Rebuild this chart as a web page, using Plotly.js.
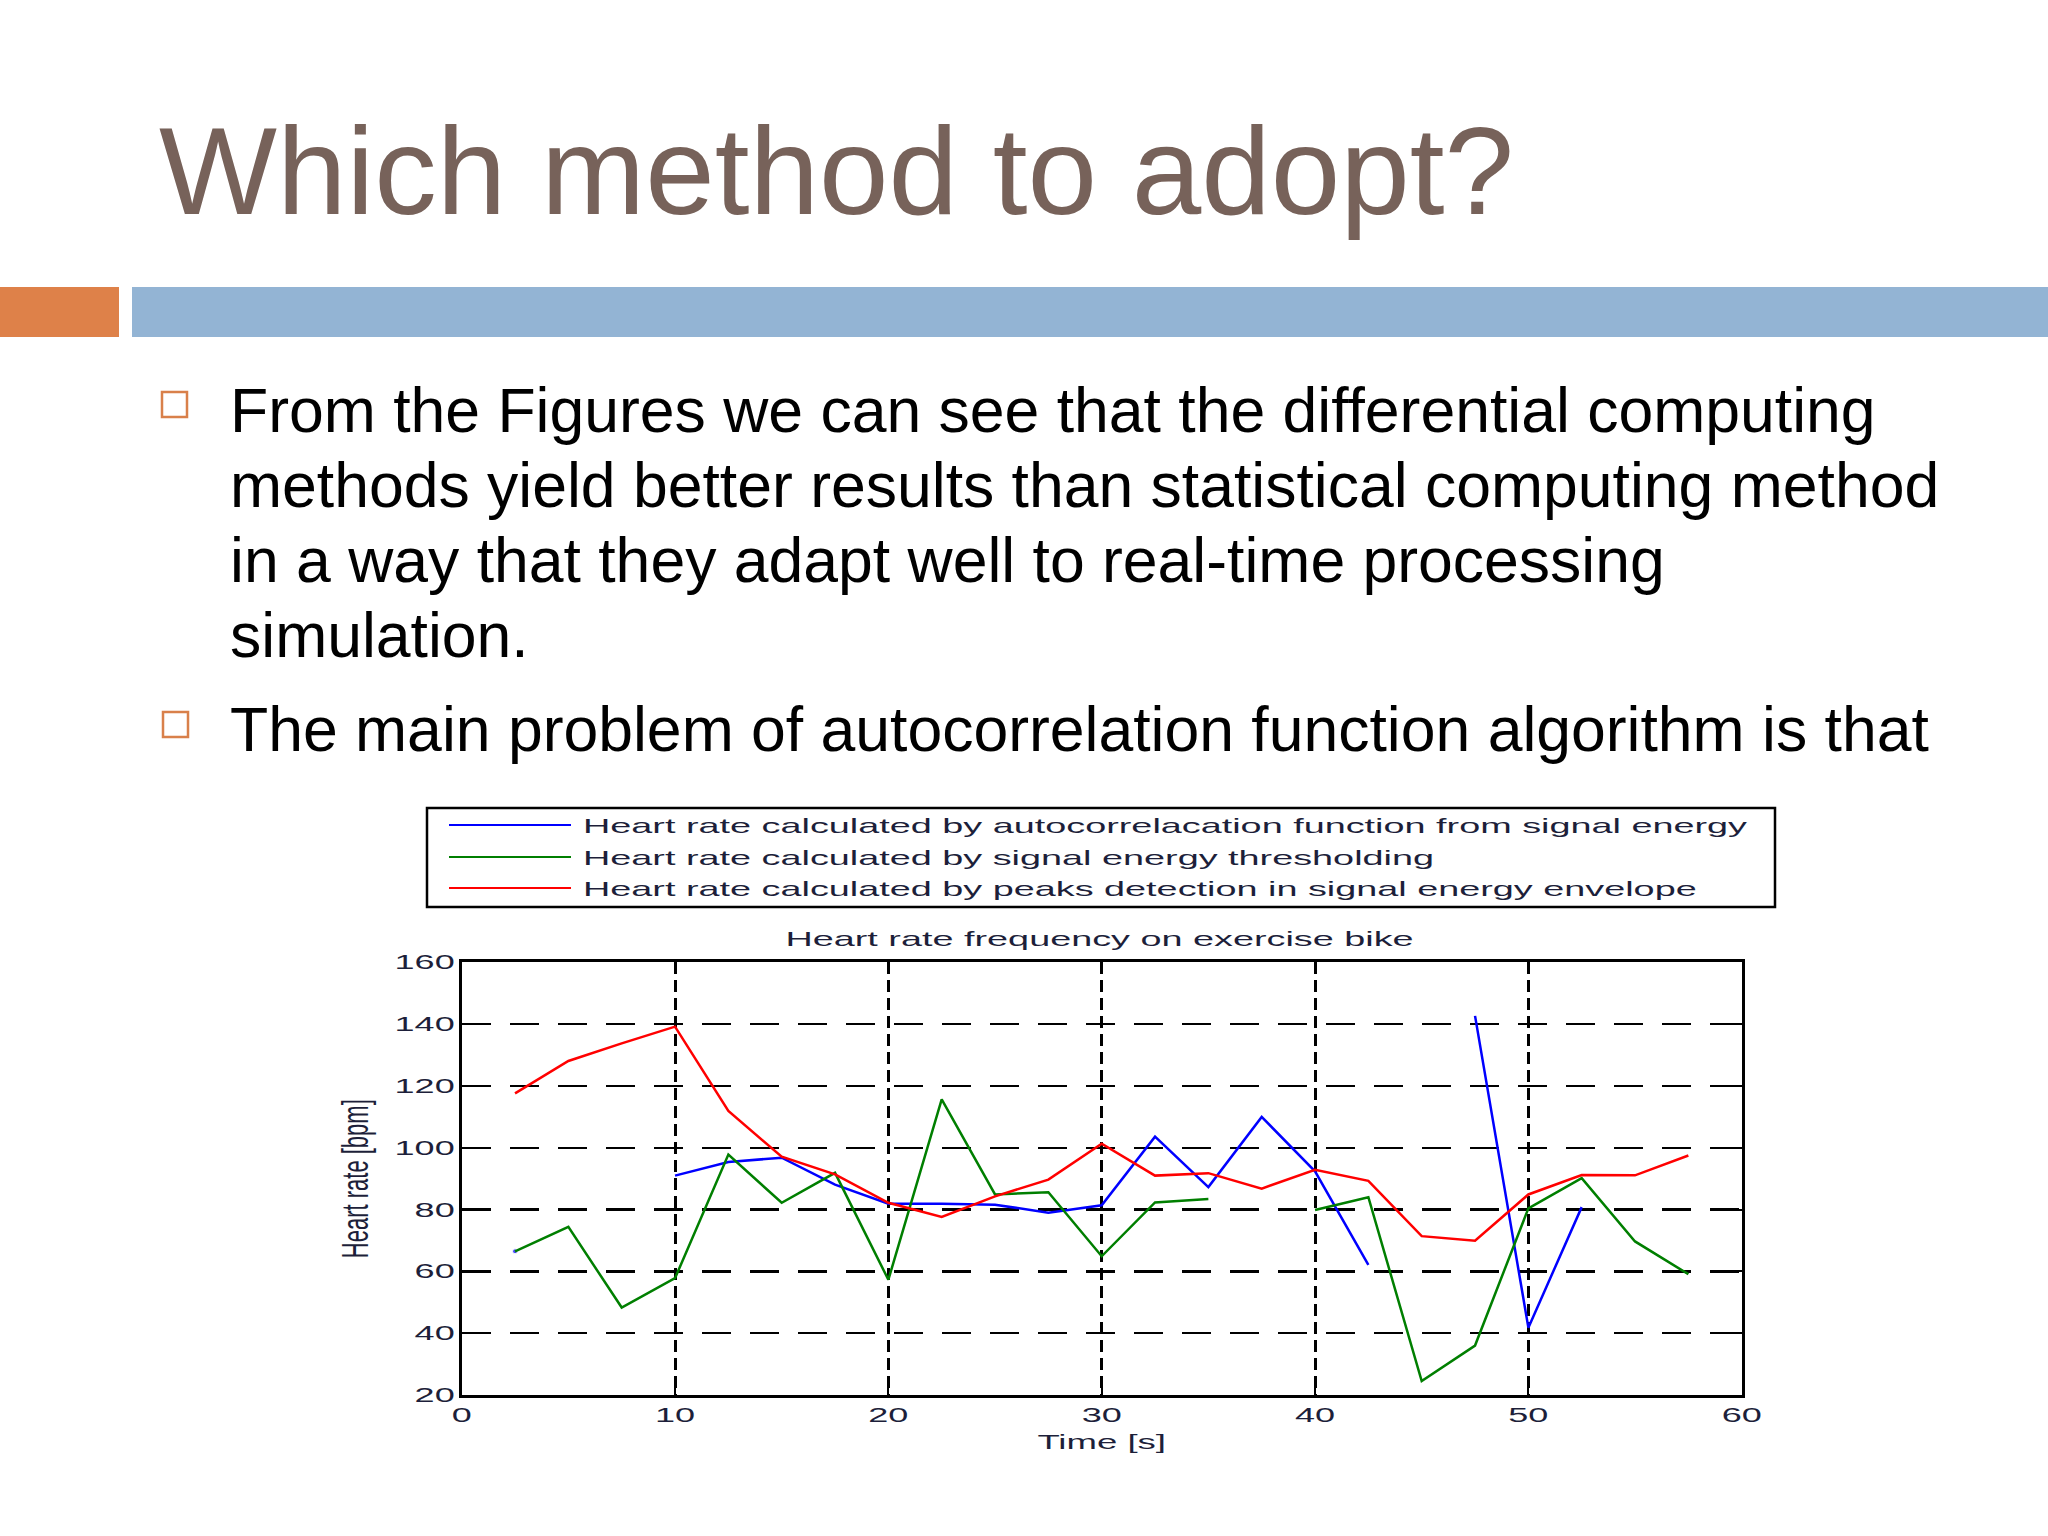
<!DOCTYPE html>
<html>
<head>
<meta charset="utf-8">
<script src="https://cdn.plot.ly/plotly-3.0.1.min.js"></script>
<style>
  html, body { margin: 0; padding: 0; background: #ffffff; }
  #chart { width: 2048px; height: 1536px; }
</style>
</head>
<body>
<div id="chart"></div>
<script>
// ---------------- data ----------------
var timeSec = [2.5, 5, 7.5, 10, 12.5, 15, 17.5, 20, 22.5, 25, 27.5, 30, 32.5, 35, 37.5, 40, 42.5, 45, 47.5, 50, 52.5, 55, 57.5];
var hrAutocorr = [66.5, null, null, 91, 95.4, 96.8, 88.1, 81.9, 81.9, 81.6, 79, 81.4, 103.6, 87.3, 110, 92.4, 62.1, null, 142.7, 41.8, 80.8, null, null];
var hrThreshold = [66.5, 74.4, 48.3, 57.8, 97.8, 82.2, 91.9, 57.3, 115.7, 84.9, 85.6, 64.9, 82.3, 83.4, null, 79.9, 84, 24.5, 36, 80.4, 90.2, 69.7, 59.1];
var hrPeaks = [117.6, 128.1, 133.8, 139.2, 111.9, 97.1, 91.4, 82.2, 77.6, 84.3, 89.7, 101.3, 91, 91.8, 86.8, 92.9, 89.3, 71.4, 69.9, 84.9, 91.2, 91.1, 97.5];

var seriesNames = [
  "Heart rate calculated by autocorrelacation function from signal energy",
  "Heart rate calculated by signal energy thresholding",
  "Heart rate calculated by peaks detection in signal energy envelope"
];
var xTickVals = [0, 10, 20, 30, 40, 50, 60];
var yTickVals = [20, 40, 60, 80, 100, 120, 140, 160];

var slideTitle = "Which method to adopt?";
var bulletLines = [
  "From the Figures we can see that the differential computing",
  "methods yield better results than statistical computing method",
  "in a way that they adapt well to real-time processing",
  "simulation."
];
var bullet2Line = "The main problem of autocorrelation function algorithm is that";
var chartTitle = "Heart rate frequency on exercise bike";
var xTitle = "Time [s]";
var yTitle = "Heart rate [bpm]";

// ---------------- helpers ----------------
var W = 2048, H = 1536;
function px(x) { return x / W; }
function py(y) { return 1 - y / H; }
// marker only where a point has no drawn neighbours (isolated sample)
function isolatedSizes(arr) {
  return arr.map(function (v, i) {
    if (v === null) return 0;
    var prev = i > 0 ? arr[i - 1] : null;
    var next = i < arr.length - 1 ? arr[i + 1] : null;
    return (prev === null && next === null) ? 5 : 0;
  });
}

var colors = ["#0000ff", "#007f00", "#ff0000"];
var seriesValues = [hrAutocorr, hrThreshold, hrPeaks];

var data = seriesValues.map(function (vals, k) {
  return {
    type: "scatter",
    mode: "lines+markers",
    x: timeSec,
    y: vals,
    name: seriesNames[k],
    connectgaps: false,
    line: { color: colors[k], width: 2.5 },
    marker: { color: colors[k], size: isolatedSizes(vals) },
    showlegend: false,
    hoverinfo: "skip"
  };
});

var sansFont = "Liberation Sans, Arial, Helvetica, sans-serif";
var chartInk = "#1d1f3a";

var shapes = [
  // orange and blue header bars
  { type: "rect", xref: "paper", yref: "paper", x0: px(0), x1: px(119), y0: py(337), y1: py(287),
    fillcolor: "#de8149", line: { width: 0 }, layer: "below" },
  { type: "rect", xref: "paper", yref: "paper", x0: px(132), x1: px(2048), y0: py(337), y1: py(287),
    fillcolor: "#93b4d4", line: { width: 0 }, layer: "below" },
  // bullet squares
  { type: "rect", xref: "paper", yref: "paper", x0: px(162), x1: px(187), y0: py(417), y1: py(392),
    fillcolor: "rgba(0,0,0,0)", line: { color: "#d9804a", width: 2.5 } },
  { type: "rect", xref: "paper", yref: "paper", x0: px(163), x1: px(188), y0: py(737), y1: py(712),
    fillcolor: "rgba(0,0,0,0)", line: { color: "#d9804a", width: 2.5 } },
  // legend box
  { type: "rect", xref: "paper", yref: "paper", x0: px(427), x1: px(1775), y0: py(907), y1: py(808),
    fillcolor: "rgba(0,0,0,0)", line: { color: "#000000", width: 2.5 } }
];
var legendRowY = [825, 857, 888];
legendRowY.forEach(function (yy, k) {
  shapes.push({ type: "line", xref: "paper", yref: "paper", x0: px(449), x1: px(571), y0: py(yy), y1: py(yy),
    line: { color: colors[k], width: 2 } });
});

var annotations = [];
function addText(txt, x, y, size, color, xanchor, family) {
  annotations.push({
    text: txt, xref: "paper", yref: "paper", x: px(x), y: py(y),
    xanchor: xanchor, yanchor: "middle", align: xanchor === "left" ? "left" : "center",
    showarrow: false, font: { family: family || sansFont, size: size, color: color }
  });
  return annotations.length - 1;
}

addText(slideTitle, 157, 170, 125, "#77625a", "left");
var lineBaselines = [431, 506, 581, 656];
bulletLines.forEach(function (t, i) {
  addText(t, 228, lineBaselines[i] - 21.5, 62.5, "#000000", "left");
});
addText(bullet2Line, 228, 751 - 21.5, 62.5, "#000000", "left");

var stretchIdx = [];
seriesNames.forEach(function (t, k) {
  stretchIdx.push(addText(t, 581, legendRowY[k] + 0.5, 21, chartInk, "left"));
});
stretchIdx.push(addText(chartTitle, 1099, 938.5, 21, chartInk, "center"));

var layout = {
  width: W, height: H,
  margin: { l: 0, r: 0, t: 0, b: 0, pad: 0 },
  paper_bgcolor: "#ffffff",
  plot_bgcolor: "#ffffff",
  showlegend: false,
  xaxis: {
    domain: [px(461.7), px(1741.7)],
    range: [0, 60],
    tickmode: "array", tickvals: xTickVals, ticktext: xTickVals.map(String),
    showgrid: true, gridcolor: "#000000", gridwidth: 3, griddash: "12px,6px",
    zeroline: false,
    showline: true, linecolor: "#000000", linewidth: 3, mirror: "ticks",
    ticks: "inside", ticklen: 8, tickwidth: 2, tickcolor: "#000000",
    tickfont: { family: sansFont, size: 20, color: chartInk },
    title: { text: xTitle, font: { family: sansFont, size: 21, color: chartInk }, standoff: 10 },
    fixedrange: true
  },
  yaxis: {
    domain: [py(1395), py(962.4)],
    range: [20, 160],
    tickmode: "array", tickvals: yTickVals, ticktext: yTickVals.map(String),
    showgrid: true, gridcolor: "#000000", gridwidth: 2.3, griddash: "29px,19px",
    zeroline: false,
    showline: true, linecolor: "#000000", linewidth: 3, mirror: "ticks",
    ticks: "inside", ticklen: 8, tickwidth: 2, tickcolor: "#000000",
    tickfont: { family: sansFont, size: 20, color: chartInk },
    title: { text: yTitle, font: { family: sansFont, size: 22, color: chartInk }, standoff: 52 },
    fixedrange: true
  },
  shapes: shapes,
  annotations: annotations
};

var gd = document.getElementById("chart");
function stretchText(el, f) {
  try {
    var w = el.getComputedTextLength();
    if (w > 0) {
      el.setAttribute("textLength", (w * f).toFixed(1));
      el.setAttribute("lengthAdjust", "spacingAndGlyphs");
    }
  } catch (e) {}
}
Plotly.newPlot(gd, data, layout, { staticPlot: true, displayModeBar: false }).then(function () {
  gd.querySelectorAll(".xtick text, .ytick text").forEach(function (el) { stretchText(el, 1.8); });
  stretchIdx.forEach(function (i) {
    var el = gd.querySelector('.annotation[data-index="' + i + '"] text.annotation-text');
    if (el) stretchText(el, 1.8);
  });
  var xt = gd.querySelector(".g-xtitle text");
  if (xt) stretchText(xt, 1.74);
  // the rotated y title: widen its glyphs horizontally on screen, like the reference
  try {
    var yt = gd.querySelector(".g-ytitle text");
    if (yt) {
      var r = yt.getBoundingClientRect();
      var s = gd.querySelector(".main-svg").getBoundingClientRect();
      var cx = r.left - s.left + r.width / 2;
      var old = yt.getAttribute("transform") || "";
      yt.setAttribute("transform", "translate(" + cx + ",0) scale(1.7,1) translate(" + (-cx) + ",0) " + old);
    }
  } catch (e) {}
});
</script>
</body>
</html>
